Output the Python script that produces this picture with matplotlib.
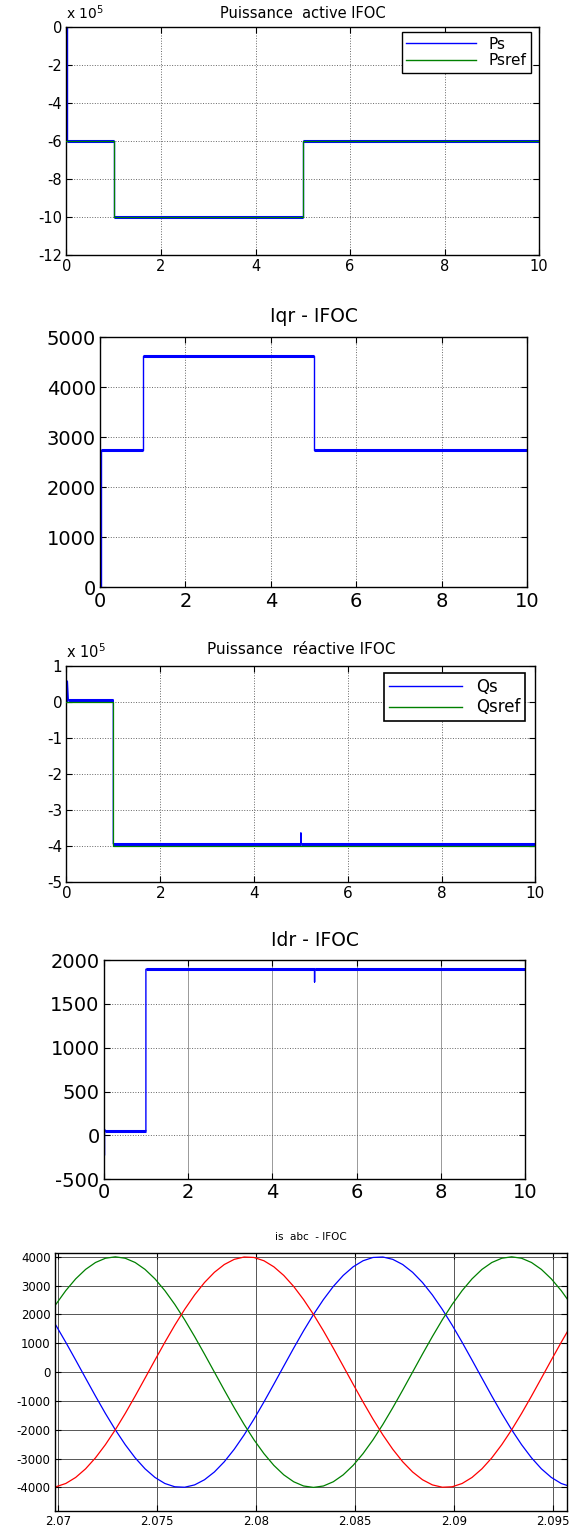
import numpy as np
import matplotlib
matplotlib.use("Agg")
import matplotlib.pyplot as plt
from matplotlib.ticker import FuncFormatter, FormatStrFormatter

plt.rcParams['font.family'] = ['DejaVu Sans']
plt.rcParams['axes.unicode_minus'] = False

# --- Puissance active (W)
ps_t = [0.02, 0.02, 1, 1, 5, 5, 10]
ps_v = [0, -6e5, -6e5, -10e5, -10e5, -6e5, -6e5]
psref_t = [0, 1, 1, 5, 5, 10]
psref_v = [-6e5, -6e5, -10e5, -10e5, -6e5, -6e5]

# --- Iqr (A)
iqr_t = [0.02, 0.02, 1, 1, 5, 5, 10]
iqr_v = [0, 2750, 2750, 4630, 4630, 2750, 2750]

# --- Puissance reactive (VAR)
qs_t = [0.02, 0.02, 0.04, 1, 1, 5, 5, 5, 10]
qs_v = [0, 0.57e5, 0.04e5, 0.04e5, -3.95e5, -3.95e5, -3.65e5, -3.95e5, -3.95e5]
qsref_t = [0, 1, 1, 10]
qsref_v = [0, 0, -4e5, -4e5]

# --- Idr (A)
idr_t = [0.02, 0.02, 0.03, 1, 1, 5, 5, 5, 10]
idr_v = [-220, 70, 50, 50, 1895, 1895, 1750, 1895, 1895]

# --- is abc, sampled every 0.5 ms from 2.0694 s
is_t0 = 2.0694
is_dt = 0.0005
is_a = [2178, 1627, 1035, 418, -209, -832, -1434, -2000, -2517, -2973,
        -3355, -3654, -3864, -3978, -3994, -3913, -3734, -3464, -3109, -2677,
        -2178, -1627, -1035, -418, 209, 832, 1434, 2000, 2517, 2973,
        3355, 3654, 3864, 3978, 3994, 3913, 3734, 3464, 3109, 2677,
        2178, 1627, 1035, 418, -209, -832, -1434, -2000, -2517, -2973,
        -3355, -3654, -3864, -3978]
is_b = [1816, 2351, 2828, 3236, 3564, 3804, 3951, 4000, 3951, 3804,
        3564, 3236, 2828, 2351, 1816, 1236, 626, 0, -626, -1236,
        -1816, -2351, -2828, -3236, -3564, -3804, -3951, -4000, -3951, -3804,
        -3564, -3236, -2828, -2351, -1816, -1236, -626, 0, 626, 1236,
        1816, 2351, 2828, 3236, 3564, 3804, 3951, 4000, 3951, 3804,
        3564, 3236, 2828, 2351]
is_c = [-3994, -3978, -3864, -3654, -3355, -2973, -2517, -2000, -1434, -832,
        -209, 418, 1035, 1627, 2178, 2677, 3109, 3464, 3734, 3913,
        3994, 3978, 3864, 3654, 3355, 2973, 2517, 2000, 1434, 832,
        209, -418, -1035, -1627, -2178, -2677, -3109, -3464, -3734, -3913,
        -3994, -3978, -3864, -3654, -3355, -2973, -2517, -2000, -1434, -832,
        -209, 418, 1035, 1627]
is_t = is_t0 + is_dt * np.arange(len(is_a))

BLUE = '#0000ff'
GREEN = '#008000'
RED = '#ff0000'


def matlab_axes(ax, fs, grid_ls=':', grid_c='#666666'):
    ax.tick_params(direction='in', top=True, right=True, length=4, width=0.8,
                   labelsize=fs, pad=3)
    for s in ax.spines.values():
        s.set_linewidth(1.0)
        s.set_color('black')
    ax.grid(True, linestyle=grid_ls, color=grid_c, linewidth=0.7)
    ax.set_axisbelow(True)


def rippled(ax, t, v, color, label=None, band=2.2):
    # thin trace + thicker band on the flat parts (switching ripple)
    ax.plot(t, v, color=color, lw=1.0, label=label, zorder=2)
    for i in range(len(t) - 1):
        if v[i] == v[i + 1] and t[i + 1] > t[i]:
            ax.plot(t[i:i + 2], v[i:i + 2], color=color, lw=band,
                    solid_capstyle='butt', zorder=2)


fig = plt.figure(figsize=(5.85, 15.28), dpi=100)

# panel 1
ax1 = fig.add_axes([0.1135, 0.8329, 0.8082, 0.1496])
rippled(ax1, ps_t, ps_v, BLUE, 'Ps')
ax1.plot(psref_t, psref_v, color=GREEN, lw=0.9, label='Psref', zorder=3)
ax1.set_xlim(0, 10)
ax1.set_ylim(-12e5, 0)
ax1.set_xticks(range(0, 11, 2))
ax1.set_yticks(np.arange(-12e5, 1, 2e5))
ax1.yaxis.set_major_formatter(FuncFormatter(lambda v, p: '%g' % (v / 1e5)))
matlab_axes(ax1, 10.5)
ax1.set_title('Puissance  active IFOC', fontsize=10.5, pad=6.5)
ax1.text(0, 1.034, r'x 10$^{5}$', transform=ax1.transAxes, fontsize=10,
         ha='left', va='baseline')
leg = ax1.legend(loc='upper right', bbox_to_anchor=(0.983, 0.977),
                 borderaxespad=0, fancybox=False, edgecolor='black',
                 framealpha=1, fontsize=11, handlelength=4.6,
                 labelspacing=0.1, borderpad=0.3)
leg.get_frame().set_linewidth(1.0)
for ln in leg.get_lines():
    ln.set_linewidth(1.0)

# panel 2
ax2 = fig.add_axes([0.1709, 0.6156, 0.7303, 0.1636])
rippled(ax2, iqr_t, iqr_v, BLUE)
ax2.set_xlim(0, 10)
ax2.set_ylim(0, 5000)
ax2.set_xticks(range(0, 11, 2))
ax2.set_yticks(range(0, 5001, 1000))
matlab_axes(ax2, 14)
ax2.set_title('Iqr - IFOC', fontsize=13.5, pad=11)

# panel 3
ax3 = fig.add_axes([0.1135, 0.4230, 0.8017, 0.1414])
rippled(ax3, qs_t, qs_v, BLUE, 'Qs')
ax3.plot(qsref_t, qsref_v, color=GREEN, lw=0.9, label='Qsref', zorder=3)
ax3.set_xlim(0, 10)
ax3.set_ylim(-5e5, 1e5)
ax3.set_xticks(range(0, 11, 2))
ax3.set_yticks(np.arange(-5e5, 1.01e5, 1e5))
ax3.yaxis.set_major_formatter(FuncFormatter(lambda v, p: '%g' % round(v / 1e5)))
matlab_axes(ax3, 11)
ax3.set_title('Puissance  réactive IFOC', fontsize=11, pad=8.4)
ax3.text(0, 1.034, r'x 10$^{5}$', transform=ax3.transAxes, fontsize=10.5,
         ha='left', va='baseline')
leg = ax3.legend(loc='upper right', bbox_to_anchor=(0.978, 0.966),
                 borderaxespad=0, fancybox=False, edgecolor='black',
                 framealpha=1, fontsize=12, handlelength=4.4,
                 labelspacing=0.15, borderpad=0.3)
leg.get_frame().set_linewidth(1.2)
for ln in leg.get_lines():
    ln.set_linewidth(1.0)

# panel 4
ax4 = fig.add_axes([0.1773, 0.2282, 0.7209, 0.1435])
rippled(ax4, idr_t, idr_v, BLUE)
ax4.set_xlim(0, 10)
ax4.set_ylim(-500, 2000)
ax4.set_xticks(range(0, 11, 2))
ax4.set_yticks(range(-500, 2001, 500))
matlab_axes(ax4, 14)
ax4.xaxis.grid(True, linestyle='-', color='#999999', linewidth=0.7)
ax4.set_title('Idr - IFOC', fontsize=13.5, pad=10)

# panel 5
ax5 = fig.add_axes([0.0938, 0.0111, 0.8757, 0.1690])
ax5.plot(is_t, is_a, color=BLUE, lw=0.9)
ax5.plot(is_t, is_b, color=GREEN, lw=0.9)
ax5.plot(is_t, is_c, color=RED, lw=0.9)
ax5.set_xlim(2.06985, 2.0957)
ax5.set_ylim(-4820, 4140)
ax5.set_xticks([2.07, 2.075, 2.08, 2.085, 2.09, 2.095])
ax5.xaxis.set_major_formatter(FormatStrFormatter('%g'))
ax5.set_yticks(range(-4000, 4001, 1000))
matlab_axes(ax5, 8.5, grid_ls='-', grid_c='#555555')
ax5.set_title('is  abc  - IFOC', fontsize=7.5, pad=9)

fig.savefig('out.png', dpi=100)
